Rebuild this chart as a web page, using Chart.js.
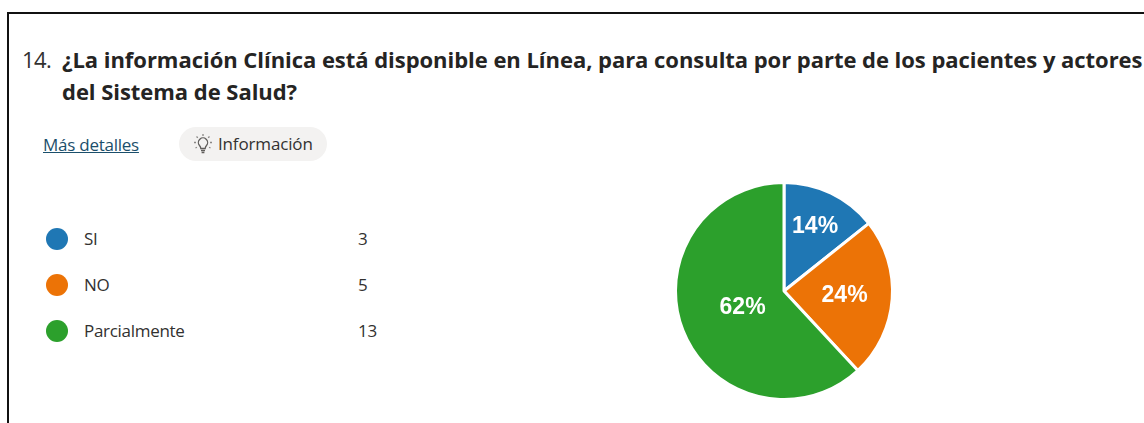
<!DOCTYPE html>
<html lang="es">
<head>
<meta charset="utf-8">
<title>Pregunta 14</title>
<script src="https://cdn.jsdelivr.net/npm/chart.js@4/dist/chart.umd.min.js"></script>
<style>
  html, body { margin: 0; padding: 0; background: #fff; }
  body { width: 1144px; height: 423px; position: relative; overflow: hidden; font-family: "Open Sans", sans-serif; color: #323130; }
  .frame { position: absolute; left: 7px; top: 12px; width: 1200px; height: 500px; border: 2px solid #111; }
  .num, .title { position: absolute; font-size: 22px; line-height: 32px; white-space: nowrap; }
  .num { left: 22px; top: 43px; letter-spacing: -0.6px; }
  .title { left: 62px; top: 43px; font-weight: 700; color: #252423; letter-spacing: -0.04px; }
  .more { position: absolute; left: 43px; top: 134px; font-size: 17px; line-height: 22px; color: #1b4f6b; text-decoration: underline; letter-spacing: -0.25px; }
  .pill { position: absolute; left: 179px; top: 127px; width: 148px; height: 34px; border-radius: 17px; background: #f3f2f1; }
  .pill svg { position: absolute; left: 13px; top: 6px; }
  .pill span { position: absolute; left: 39px; top: 6px; font-size: 17px; line-height: 22px; letter-spacing: -0.15px; }
  .dot { position: absolute; left: 46px; width: 22px; height: 22px; border-radius: 50%; }
  .lab, .val { position: absolute; font-size: 17px; line-height: 22px; letter-spacing: -0.3px; }
  .lab { left: 84px; }
  .val { left: 358px; }
  #pie { position: absolute; left: 664px; top: 171px; }
</style>
</head>
<body>
<div class="frame"></div>
<div class="num">14.</div>
<div class="title">¿La información Clínica está disponible en Línea, para consulta por parte de los pacientes y actores<br>del Sistema de Salud?</div>
<div class="more">Más detalles</div>
<div class="pill">
  <svg width="22" height="22" viewBox="0 0 22 22" fill="none" stroke="#605e5c" stroke-width="1.3">
    <path d="M7.5 12.5a4.6 4.6 0 1 1 7 0c-.9 1-1.2 1.8-1.3 3h-4.400c-.1-1.200-.4-2-1.300-3z"/>
    <path d="M9 17.500h4M9.600 19.500h2.800"/>
    <path d="M11 1v2M4.500 3.500l1.300 1.300M17.500 3.500l-1.300 1.300M2 9.500h2M18 9.500h2M3.500 15l1.400-.8M18.500 15l-1.400-.8" stroke="#8a8886"/>
  </svg>
  <span>Información</span>
</div>
<div id="legend"></div>
<div id="pie" style="width:240px;height:240px"><canvas id="chart"></canvas></div>

<script>
const categories = ["SI", "NO", "Parcialmente"]
const counts = [3, 5, 13]
const sliceColors = ["#1f77b4", "#ec7306", "#2ca02c"]

// how far out each percent label sits, as a share of the radius
const labelRadius = [0.66, 0.56, 0.41]

const legendTops = [228, 274, 320]
const legend = document.getElementById("legend")
categories.forEach((name, i) => {
  legend.innerHTML +=
    `<div class="dot" style="top:${legendTops[i]}px;background:${sliceColors[i]}"></div>` +
    `<div class="lab" style="top:${legendTops[i]}px">${name}</div>` +
    `<div class="val" style="top:${legendTops[i]}px">${counts[i]}</div>`
})

const total = counts.reduce((a, b) => a + b, 0)

const percentLabels = {
  id: "percentLabels",
  afterDatasetsDraw(chart) {
    const { ctx } = chart
    const arcs = chart.getDatasetMeta(0).data
    ctx.save()
    ctx.font = "700 23px 'Liberation Sans', Arial, sans-serif"
    ctx.fillStyle = "#fff"
    ctx.textAlign = "center"
    ctx.textBaseline = "middle"
    arcs.forEach((arc, i) => {
      const mid = (arc.startAngle + arc.endAngle) / 2
      const r = arc.outerRadius * labelRadius[i]
      const text = Math.round((counts[i] / total) * 100) + "%"
      ctx.fillText(text, arc.x + Math.cos(mid) * r, arc.y + Math.sin(mid) * r)
    })
    ctx.restore()
  },
}

new Chart(document.getElementById("chart"), {
  type: "pie",
  data: {
    labels: categories,
    datasets: [
      {
        data: counts,
        backgroundColor: sliceColors,
        borderColor: "#fff",
        borderWidth: 3,
      },
    ],
  },
  options: {
    responsive: true,
    maintainAspectRatio: false,
    animation: false,
    layout: { padding: 10 },
    plugins: {
      legend: { display: false },
      tooltip: { enabled: false },
    },
  },
  plugins: [percentLabels],
})
</script>
</body>
</html>
